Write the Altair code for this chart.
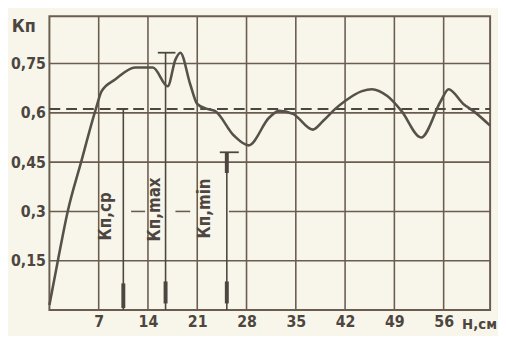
import altair as alt
import pandas as pd

# Curve Kп(H)
h_vals = [0, 1.2, 2.6, 4.5, 6.6, 7.42, 9.38, 12.18, 14.7, 16.8, 17.9, 18.6, 20.0, 21.0,
          22.4, 23.5, 26.2, 28.3, 31.2, 32.6, 34.6, 37.4, 38.9, 40.6, 42.0, 44.4, 45.8,
          48.0, 50.0, 52.8, 55.6, 56.7, 58.8, 60.2, 62.6]
kp_vals = [0.015, 0.15, 0.3, 0.45, 0.612, 0.666, 0.702, 0.738, 0.738, 0.681, 0.762, 0.783,
           0.687, 0.627, 0.612, 0.606, 0.531, 0.501, 0.585, 0.606, 0.597, 0.549, 0.576, 0.612,
           0.636, 0.666, 0.672, 0.651, 0.606, 0.525, 0.636, 0.672, 0.627, 0.606, 0.561]

x_ticks = [7, 14, 21, 28, 35, 42, 49, 56]
y_ticks = [0.15, 0.3, 0.45, 0.6, 0.75]
kp_mean = 0.612
x_max = 62.6
y_max = 0.894

# horizontal grid segments (y, x start, x end)
hgrid_y = [0.15, 0.45, 0.6, 0.75, 0.3, 0.3, 0.3, 0.3]
hgrid_x1 = [0, 0, 0, 0, 0, 11.6, 17.9, 25.5]
hgrid_x2 = [x_max, x_max, x_max, x_max, 7, 13.6, 20.0, x_max]

# marker lines for Kп,ср / Kп,max / Kп,min
mark_x = [10.5, 16.5, 25.2]
mark_top = [0.612, 0.783, 0.48]
cap_x1 = [10.1, 15.4, 24.2]
cap_x2 = [11.2, 17.9, 26.9]
thick_x = [10.5, 16.5, 25.2, 25.2]
thick_y1 = [0.006, 0.02, 0.02, 0.417]
thick_y2 = [0.081, 0.087, 0.087, 0.48]

label_text = ["Кп,ср", "Кп,max", "Кп,min"]
label_x = [8.1, 15.0, 22.1]
label_y = [0.285, 0.306, 0.309]

ink = "#4d4640"
grid_c = "#6a5d50"
font = "DejaVu Sans Condensed, Liberation Sans Narrow, Roboto Condensed, sans-serif"

xs = alt.Scale(domain=[0, x_max], nice=False, zero=False)
ys = alt.Scale(domain=[0, y_max], nice=False, zero=False)

curve_df = pd.DataFrame({"H": h_vals, "Kp": kp_vals})
hgrid_df = pd.DataFrame({"y": hgrid_y, "x1": hgrid_x1, "x2": hgrid_x2})
vgrid_df = pd.DataFrame({"x": x_ticks})
mark_df = pd.DataFrame({"x": mark_x, "top": mark_top, "c1": cap_x1, "c2": cap_x2})
thick_df = pd.DataFrame({"x": thick_x, "y1": thick_y1, "y2": thick_y2})
lab_df = pd.DataFrame({"t": label_text, "x": label_x, "y": label_y})
mean_df = pd.DataFrame({"y": [kp_mean], "x1": [0], "x2": [x_max]})

base_axes = alt.Chart(pd.DataFrame({"x": [0], "y": [0]})).mark_point(opacity=0).encode(
    x=alt.X("x:Q", scale=xs, axis=alt.Axis(values=x_ticks, title=None, grid=False, ticks=False,
                                            domain=False, labelFontSize=16, labelFont=font,
                                            labelFontWeight="bold", labelColor=ink, labelPadding=4)),
    y=alt.Y("y:Q", scale=ys, axis=alt.Axis(values=y_ticks, title=None, grid=False, ticks=False,
                                            domain=False, labelFontSize=16, labelFont=font,
                                            labelFontWeight="bold", labelColor=ink, labelPadding=4,
                                            labelExpr="replace(toString(datum.value), '.', ',')")),
)

hgrid = alt.Chart(hgrid_df).mark_rule(color=grid_c, strokeWidth=1.6).encode(
    x=alt.X("x1:Q", scale=xs), x2="x2:Q", y=alt.Y("y:Q", scale=ys))
vgrid = alt.Chart(vgrid_df).mark_rule(color=grid_c, strokeWidth=1.6).encode(
    x=alt.X("x:Q", scale=xs), y=alt.value(0), y2=alt.value(298))
mean_line = alt.Chart(mean_df).mark_rule(color=ink, strokeWidth=2, strokeDash=[11, 6]).encode(
    x=alt.X("x1:Q", scale=xs), x2="x2:Q", y=alt.Y("y:Q", scale=ys))
mlines = alt.Chart(mark_df).mark_rule(color=ink, strokeWidth=1.6).encode(
    x=alt.X("x:Q", scale=xs), y=alt.Y("top:Q", scale=ys), y2=alt.datum(0))
caps = alt.Chart(mark_df).mark_rule(color=ink, strokeWidth=1.8).encode(
    x=alt.X("c1:Q", scale=xs), x2="c2:Q", y=alt.Y("top:Q", scale=ys))
thick = alt.Chart(thick_df).mark_rule(color=ink, strokeWidth=4).encode(
    x=alt.X("x:Q", scale=xs), y=alt.Y("y1:Q", scale=ys), y2="y2:Q")
curve = alt.Chart(curve_df).mark_line(color="#57514b", strokeWidth=2.6, interpolate="monotone").encode(
    x=alt.X("H:Q", scale=xs), y=alt.Y("Kp:Q", scale=ys))
labels = alt.Chart(lab_df).mark_text(angle=270, fontSize=17, font=font, fontWeight="bold",
                                     color=ink).encode(
    x=alt.X("x:Q", scale=xs), y=alt.Y("y:Q", scale=ys), text="t:N")
kp_title = alt.Chart(pd.DataFrame({"t": ["Кп"]})).mark_text(
    fontSize=18, font=font, fontWeight="bold", color=ink).encode(
    x=alt.value(-26), y=alt.value(11), text="t:N")
h_title = alt.Chart(pd.DataFrame({"t": ["Н,см"]})).mark_text(
    fontSize=15, font=font, fontWeight="bold", color=ink, align="right").encode(
    x=alt.value(454), y=alt.value(312), text="t:N")

chart = alt.layer(base_axes, hgrid, vgrid, mean_line, mlines, caps, thick, curve, labels,
                  kp_title, h_title).properties(
    width=447, height=298, autosize="none",
    padding={"left": 42, "top": 6, "right": 8, "bottom": 24},
    background="#f8f6ea",
).configure_view(stroke=grid_c, strokeWidth=2)

chart.save("out.html", embed_options={"renderer": "svg", "actions": False})
